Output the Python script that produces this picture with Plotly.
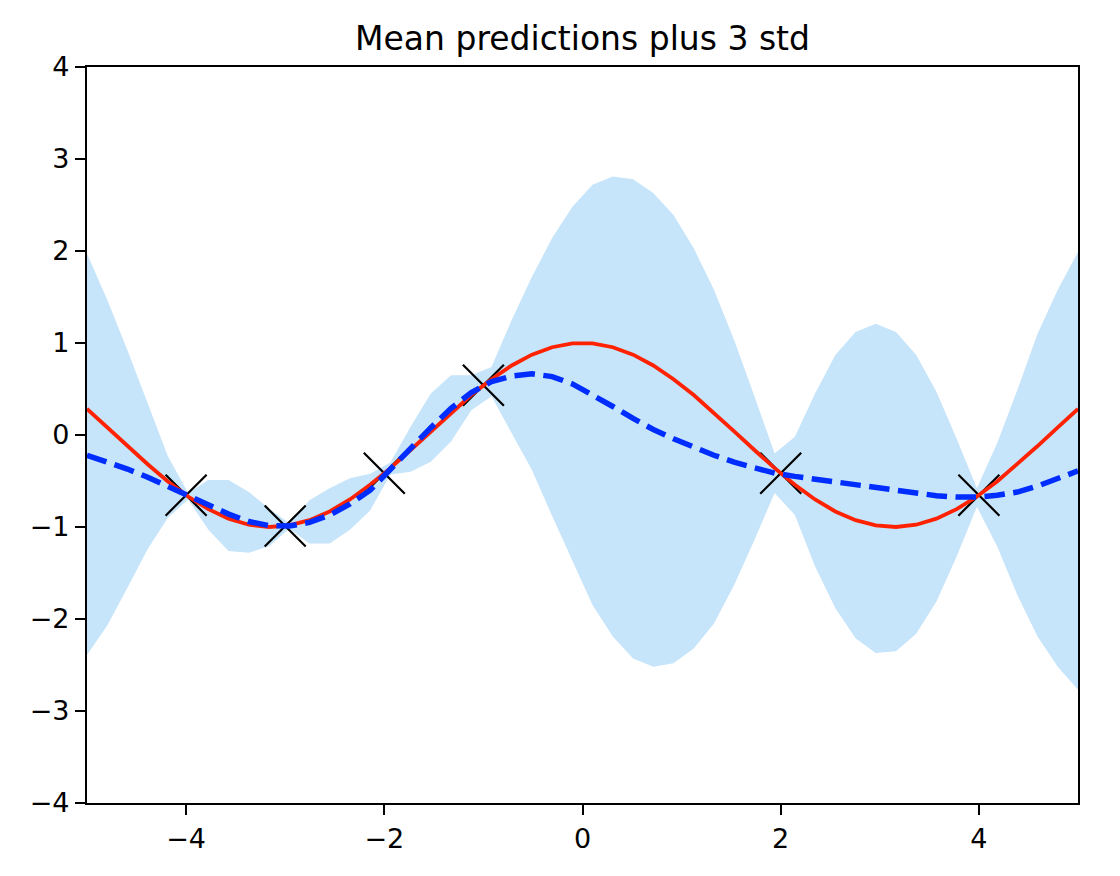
import numpy as np
import plotly.graph_objects as go

# test grid (50 points from -5 to 5)
x_grid = np.linspace(-5, 5, 50)

# true function (red curve)
true_f = [0.284, 0.084, -0.120, -0.318, -0.505, -0.669, -0.806, -0.909, -0.975, -1.000,
          -0.983, -0.926, -0.831, -0.701, -0.541, -0.360, -0.163, 0.040, 0.241, 0.434,
          0.607, 0.756, 0.873, 0.954, 0.995, 0.995, 0.954, 0.873, 0.756, 0.607,
          0.434, 0.241, 0.040, -0.163, -0.360, -0.541, -0.701, -0.831, -0.926, -0.983,
          -1.000, -0.975, -0.909, -0.806, -0.669, -0.505, -0.318, -0.120, 0.084, 0.284]

# GP mean prediction (blue dashed)
mean_pred = [-0.22, -0.29, -0.37, -0.46, -0.56, -0.665, -0.76, -0.86, -0.94, -0.985,
             -0.99, -0.95, -0.87, -0.75, -0.60, -0.37, -0.15, 0.08, 0.29, 0.46,
             0.58, 0.64, 0.665, 0.635, 0.555, 0.44, 0.31, 0.18, 0.06, -0.04,
             -0.135, -0.22, -0.295, -0.36, -0.415, -0.45, -0.48, -0.51, -0.54, -0.58,
             -0.61, -0.64, -0.66, -0.675, -0.675, -0.655, -0.62, -0.555, -0.48, -0.39]

# mean + 3 std
upper_band = [1.97, 1.47, 0.92, 0.34, -0.23, -0.63, -0.49, -0.49, -0.62, -0.80,
              -0.96, -0.71, -0.58, -0.47, -0.42, -0.30, 0.09, 0.45, 0.65, 0.65,
              0.74, 1.25, 1.72, 2.14, 2.48, 2.72, 2.81, 2.78, 2.63, 2.39,
              2.03, 1.58, 1.03, 0.42, -0.20, -0.02, 0.45, 0.87, 1.12, 1.21,
              1.12, 0.87, 0.47, -0.04, -0.58, -0.09, 0.49, 1.10, 1.58, 1.99]

# mean - 3 std
lower_band = [-2.39, -2.07, -1.66, -1.24, -0.90, -0.70, -1.03, -1.26, -1.28, -1.21,
              -1.02, -1.18, -1.18, -1.03, -0.82, -0.43, -0.40, -0.29, -0.07, 0.27,
              0.42, 0.02, -0.38, -0.88, -1.37, -1.85, -2.19, -2.43, -2.52, -2.48,
              -2.32, -2.05, -1.63, -1.14, -0.63, -0.87, -1.43, -1.88, -2.21, -2.37,
              -2.35, -2.16, -1.81, -1.32, -0.78, -1.21, -1.74, -2.19, -2.52, -2.77]

# training points (black crosses)
x_train = [-4, -3, -2, -1, 2, 4]
y_train = [-0.654, -0.990, -0.416, 0.540, -0.416, -0.654]

x_ticks = [-4, -2, 0, 2, 4]
y_ticks = [-4, -3, -2, -1, 0, 1, 2, 3, 4]

FONT = "DejaVu Sans"
fig = go.Figure()

fig.add_trace(go.Scatter(x=x_grid, y=lower_band, mode="lines",
                         line=dict(width=0, color="rgba(0,0,0,0)"),
                         showlegend=False, hoverinfo="skip"))
fig.add_trace(go.Scatter(x=x_grid, y=upper_band, mode="lines", fill="tonexty",
                         fillcolor="rgb(198,228,250)",
                         line=dict(width=0, color="rgba(0,0,0,0)"),
                         showlegend=False, hoverinfo="skip"))
fig.add_trace(go.Scatter(x=x_train, y=y_train, mode="markers",
                         marker=dict(symbol="x-thin", size=41,
                                     line=dict(width=2.2, color="black"),
                                     color="black"),
                         showlegend=False))
fig.add_trace(go.Scatter(x=x_grid, y=true_f, mode="lines",
                         line=dict(color="#ff2200", width=3.8),
                         showlegend=False))
fig.add_trace(go.Scatter(x=x_grid, y=mean_pred, mode="lines",
                         line=dict(color="#002dff", width=5.5, dash="20.5px,8.5px"),
                         showlegend=False))

axis_common = dict(showgrid=False, zeroline=False, showline=True, linecolor="black",
                   linewidth=2.2, mirror=True, ticks="outside", ticklen=10,
                   tickwidth=2.2, tickcolor="black",
                   tickfont=dict(family=FONT, size=27, color="black"))

fig.update_xaxes(range=[-5, 5], tickvals=x_ticks, **axis_common)
fig.update_yaxes(range=[-4, 4], tickvals=y_ticks, **axis_common)

# the page adds an 8px offset, so margins are shifted accordingly
fig.update_layout(
    width=1120, height=876,
    margin=dict(l=79, r=50, t=59, b=81),
    paper_bgcolor="white", plot_bgcolor="white",
    title=dict(text="Mean predictions plus 3 std", x=0.5, xanchor="center",
               xref="paper", y=1 - 30.5 / 876, yref="container", yanchor="middle",
               font=dict(family=FONT, size=33, color="black")),
    font=dict(family=FONT, color="black"),
    showlegend=False,
)

fig.write_html("out.html")
